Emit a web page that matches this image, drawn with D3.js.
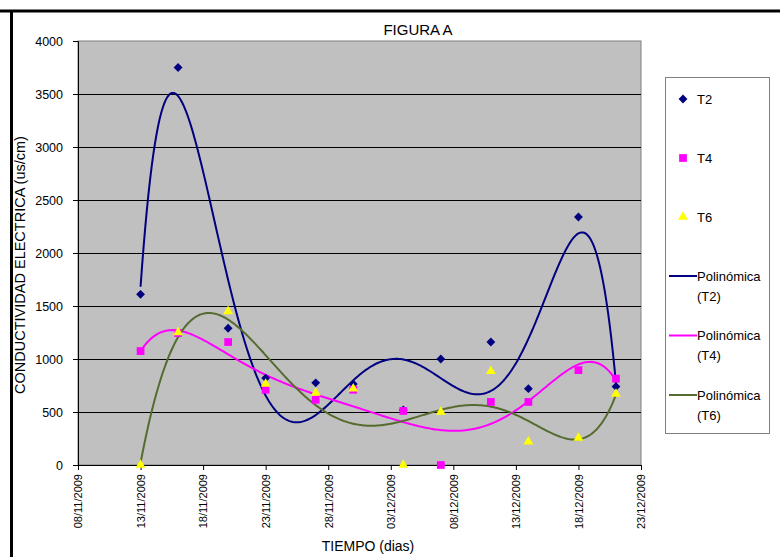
<!DOCTYPE html>
<html><head><meta charset="utf-8">
<script src="https://cdn.jsdelivr.net/npm/d3@7"></script>
<style>
body{margin:0;background:#fff;}
svg{display:block;font-family:"Liberation Sans",Arial,sans-serif;}
</style></head>
<body><svg id="c" width="780" height="557"></svg>
<script>
const dates = ["2009-11-13","2009-11-16","2009-11-20","2009-11-23","2009-11-27","2009-11-30","2009-12-04","2009-12-07","2009-12-11","2009-12-14","2009-12-18","2009-12-21"];
const T2 = [1610,3750,1290,820,775,765,520,1000,1160,720,2340,740];
const T4 = [1075,1245,1160,710,615,710,510,0,595,595,895,815];
const T6 = [0,1250,1450,765,680,720,0,500,885,220,255,670];
const yTicks = [0,500,1000,1500,2000,2500,3000,3500,4000];
const xTickLabels = ["08/11/2009","13/11/2009","18/11/2009","23/11/2009","28/11/2009","03/12/2009","08/12/2009","13/12/2009","18/12/2009","23/12/2009"];
const title = "FIGURA A";
const xTitle = "TIEMPO (dias)";
const yTitle = "CONDUCTIVIDAD ELECTRICA  (us/cm)";
const seriesNames = ["T2","T4","T6"];
const colors = ["#000080","#ff00ff","#ffff00"];
const trendColors = ["#000080","#ff00ff","#556b2f"];

const parse = d3.timeParse("%Y-%m-%d");
const parseTick = d3.timeParse("%d/%m/%Y");
const fmt = d3.timeFormat("%d/%m/%Y");
const xd = dates.map(parse);
const FONT = "Liberation Sans, Arial, sans-serif";

const svg = d3.select("#c");
const L=78, R=641, T=41, B=465;
const x = d3.scaleTime().domain([parseTick(xTickLabels[0]), parseTick(xTickLabels[xTickLabels.length-1])]).range([L,R]);
const y = d3.scaleLinear().domain([0,4000]).range([B,T]);

// outer frame
svg.append("line").attr("x1",0).attr("x2",780).attr("y1",11).attr("y2",11).attr("stroke","#000").attr("stroke-width",3);
svg.append("line").attr("x1",11.5).attr("x2",11.5).attr("y1",10).attr("y2",557).attr("stroke","#000").attr("stroke-width",3);

// plot area
svg.append("rect").attr("x",L).attr("y",T).attr("width",R-L).attr("height",B-T).attr("fill","#c0c0c0").attr("stroke","#808080").attr("stroke-width",1);

// grid
svg.append("g").selectAll("line").data(yTicks.filter(v=>v>0 && v<4000)).join("line")
  .attr("x1",L).attr("x2",R).attr("y1",d=>Math.round(y(d))+0.5).attr("y2",d=>Math.round(y(d))+0.5)
  .attr("stroke","#000").attr("stroke-width",1);

// axes
const yAxis = d3.axisLeft(y).tickValues(yTicks).tickFormat(d3.format("d")).tickSize(5).tickPadding(10);
const gy = svg.append("g").attr("transform",`translate(${L},0)`).call(yAxis);
gy.attr("font-family",FONT);
gy.selectAll("text").attr("font-size",12.5).attr("fill","#000");
gy.select(".domain").attr("stroke","#000");

const xAxis = d3.axisBottom(x).tickValues(xTickLabels.map(parseTick)).tickFormat(fmt).tickSize(5).tickSizeOuter(0);
const gx = svg.append("g").attr("transform",`translate(0,${B})`).call(xAxis);
gx.attr("font-family",FONT);
gx.select(".domain").attr("stroke","#000");
gx.selectAll("text").attr("font-size",11).attr("fill","#000")
  .attr("transform","rotate(-90)").attr("text-anchor","end").attr("x",-9).attr("y",0).attr("dy","0.35em");

// polynomial fit (degree 6, least squares)
function polyfit(xs, ys, deg){
  const n=deg+1, A=[...Array(n)].map(()=>Array(n+1).fill(0));
  for(let k=0;k<xs.length;k++){
    const p=[]; for(let i=0;i<n;i++) p.push(Math.pow(xs[k],i));
    for(let i=0;i<n;i++){ for(let j=0;j<n;j++) A[i][j]+=p[i]*p[j]; A[i][n]+=p[i]*ys[k]; }
  }
  for(let i=0;i<n;i++){
    let m=i; for(let r=i+1;r<n;r++) if(Math.abs(A[r][i])>Math.abs(A[m][i])) m=r;
    [A[i],A[m]]=[A[m],A[i]];
    for(let r=0;r<n;r++){ if(r===i) continue; const f=A[r][i]/A[i][i]; for(let c=i;c<=n;c++) A[r][c]-=f*A[i][c]; }
  }
  return A.map((row,i)=>row[n]/row[i]);
}
const t0 = +xd[0], t1 = +xd[xd.length-1];
const norm = d=> ( (+d) - (t0+t1)/2 ) / ((t1-t0)/2);
const allSeries=[T2,T4,T6];
const clipId="clip";
svg.append("clipPath").attr("id",clipId).append("rect").attr("x",L).attr("y",T).attr("width",R-L).attr("height",B-T);
const line = d3.line().x(d=>x(d[0])).y(d=>y(d[1]));
allSeries.forEach((s,i)=>{
  const c = polyfit(xd.map(norm), s, 6);
  const pts=[];
  for(let k=0;k<=300;k++){
    const t = t0+(t1-t0)*k/300; const u=norm(t);
    let v=0; for(let j=c.length-1;j>=0;j--) v=v*u+c[j];
    pts.push([new Date(t),v]);
  }
  svg.append("path").attr("d",line(pts)).attr("fill","none").attr("stroke",trendColors[i]).attr("stroke-width",2).attr("clip-path",`url(#${clipId})`);
});

// markers
const sym = [d3.symbolDiamond2, d3.symbolSquare, d3.symbolTriangle];
const sizes=[50,60,42];
[0,1,2].forEach(i=>{
  svg.append("g").selectAll("path").data(allSeries[i].map((v,k)=>[xd[k],v])).join("path")
    .attr("transform",d=>`translate(${x(d[0])},${y(d[1])})`)
    .attr("d",d3.symbol().type(sym[i]).size(sizes[i])).attr("fill",colors[i]);
});

// titles
svg.append("text").attr("x",418).attr("y",35).attr("text-anchor","middle").attr("font-size",15).text(title);
svg.append("text").attr("x",368).attr("y",551).attr("text-anchor","middle").attr("font-size",14).text(xTitle);
svg.append("text").attr("transform","translate(25,265) rotate(-90)").attr("text-anchor","middle").attr("font-size",14.5).text(yTitle);

// legend
const lg = svg.append("g");
lg.append("rect").attr("x",665.5).attr("y",77.5).attr("width",104).attr("height",356).attr("fill","#fff").attr("stroke","#808080");
[0,1,2].forEach(i=>{
  const yy=99+i*59;
  lg.append("path").attr("transform",`translate(683,${yy})`).attr("d",d3.symbol().type(sym[i]).size(sizes[i])).attr("fill",colors[i]);
  lg.append("text").attr("x",697).attr("y",yy).attr("dy","0.35em").attr("font-size",13).text(seriesNames[i]);
});
[0,1,2].forEach(i=>{
  const yy=276+i*59.5;
  lg.append("line").attr("x1",669).attr("x2",697).attr("y1",yy).attr("y2",yy).attr("stroke",trendColors[i]).attr("stroke-width",2);
  lg.append("text").attr("x",697).attr("y",yy).attr("dy","0.35em").attr("font-size",13).text("Polinómica");
  lg.append("text").attr("x",697).attr("y",yy+20).attr("dy","0.35em").attr("font-size",13).text("("+seriesNames[i]+")");
});
</script></body></html>
